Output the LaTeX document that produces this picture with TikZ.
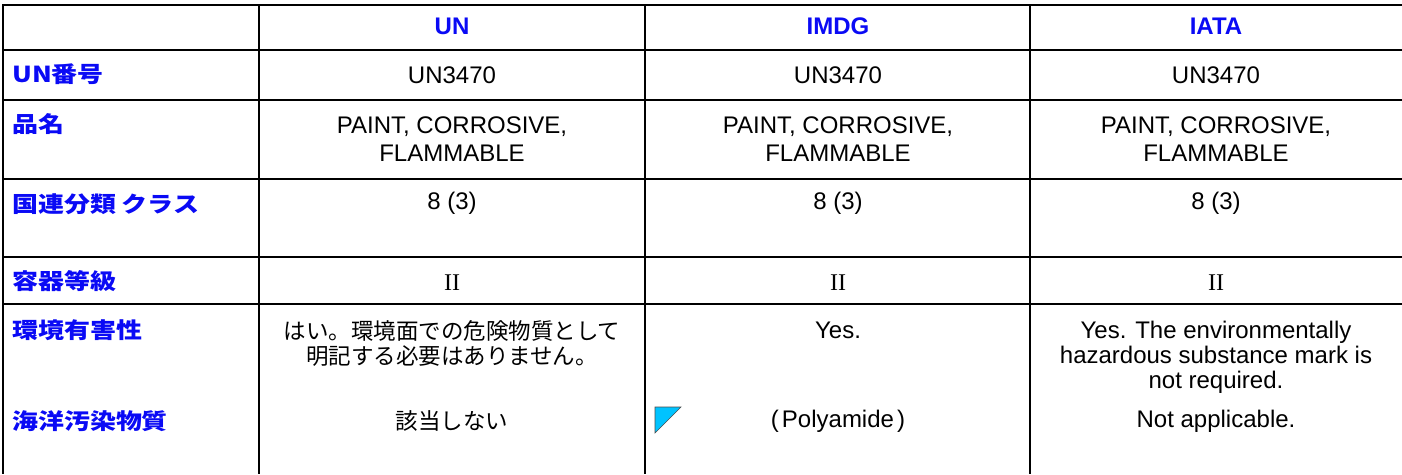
\documentclass[tikz,border=0pt]{standalone}
\usepackage{fontspec}
\setmainfont{Liberation Sans}
\newfontfamily\jpval{Noto Sans CJK JP}
\newfontfamily\jplab[FakeStretch=1.18]{Noto Sans CJK JP}
\newfontfamily\serifnum{Liberation Serif}
\definecolor{labblue}{RGB}{10,10,245}
\definecolor{tricyan}{RGB}{0,195,255}
\definecolor{gridblack}{RGB}{0,0,0}
\tikzset{
  gridline/.style={draw=gridblack, line width=2.2pt},
  vline/.style={draw=gridblack, line width=1.7pt},
  lab/.style={anchor=west, text=labblue, inner sep=0pt,
    font=\jplab\bfseries\fontsize{22}{24}\selectfont},
  hdr/.style={text=labblue, inner sep=0pt,
    font=\bfseries\fontsize{24}{26}\selectfont},
  val/.style={inner sep=0pt, align=center,
    font=\fontsize{24}{25}\selectfont},
  valtwo/.style={inner sep=0pt, align=center,
    font=\fontsize{24}{28}\selectfont},
  jval/.style={inner sep=0pt, align=center,
    font=\jpval\fontsize{22.5}{25}\selectfont},
  romval/.style={inner sep=0pt, font=\serifnum\fontsize{24}{26}\selectfont},
  flag/.style={fill=tricyan, draw=black!70, line width=0.6pt}
}
\begin{document}
\begin{tikzpicture}[x=1pt, y=-1pt]
\useasboundingbox (0,0) rectangle (1402,474);
\fill[white] (0,0) rectangle (1402,474);

% grid
\foreach \yy in {5,50,100,179,257,304}
  \draw[gridline] (2,\yy) -- (1402,\yy);
\draw[gridline] (3,4) -- (3,474);
\foreach \xx in {259,645,1030}
  \draw[vline] (\xx,5) -- (\xx,474);

% header
\node[hdr] (hUN) at (452,26) {UN};
\node[hdr] (hIMDG) at (838,26) {IMDG};
\node[hdr] (hIATA) at (1216,26) {IATA};

% row labels
\node[lab] (lUN) at (12,74) {UN番号};
\node[lab] (lName) at (12,124) {品名};
\node[lab] (lClass) at (12,204) {国連分類 クラス};
\node[lab] (lPG) at (12,281) {容器等級};
\node[lab] (lEnv) at (12,330) {環境有害性};
\node[lab] (lMar) at (12,421) {海洋汚染物質};

% UN number
\node[val] (un1) at (452,75) {UN3470};
\node[val] (un2) at (838,75) {UN3470};
\node[val] (un3) at (1216,75) {UN3470};

% name
\node[valtwo, anchor=north] (nm1) at (452,116.5) {PAINT, CORROSIVE,\\FLAMMABLE};
\node[valtwo, anchor=north] (nm2) at (838,116.5) {PAINT, CORROSIVE,\\FLAMMABLE};
\node[valtwo, anchor=north] (nm3) at (1216,116.5) {PAINT, CORROSIVE,\\FLAMMABLE};

% class
\node[val] (cl1) at (452,203) {8 (3)};
\node[val] (cl2) at (838,203) {8 (3)};
\node[val] (cl3) at (1216,203) {8 (3)};

% packing group
\node[romval] (pg1) at (452,283) {II};
\node[romval] (pg2) at (838,283) {II};
\node[romval] (pg3) at (1216,283) {II};

% environment
\node[jval] (env1) at (452,343) {はい。環境面での危険物質として\\明記する必要はありません。};
\node[val] (env2) at (838,330) {Yes.};
\node[val] (env3) at (1216,357) {Yes. The environmentally\\hazardous substance mark is\\not required.};

% marine pollutant
\node[jval] (mp1) at (452,421) {該当しない};
\node[val] (mp2) at (838,421) {(\kern3pt Polyamide\kern3pt)};
\node[val] (mp3) at (1216,421) {Not applicable.};

% small flag
\coordinate (fA) at (655,407);
\coordinate (fB) at (681,407);
\coordinate (fC) at (655,433);
\draw[flag] (fA) -- (fB) -- (fC) -- cycle;
\end{tikzpicture}
\end{document}
